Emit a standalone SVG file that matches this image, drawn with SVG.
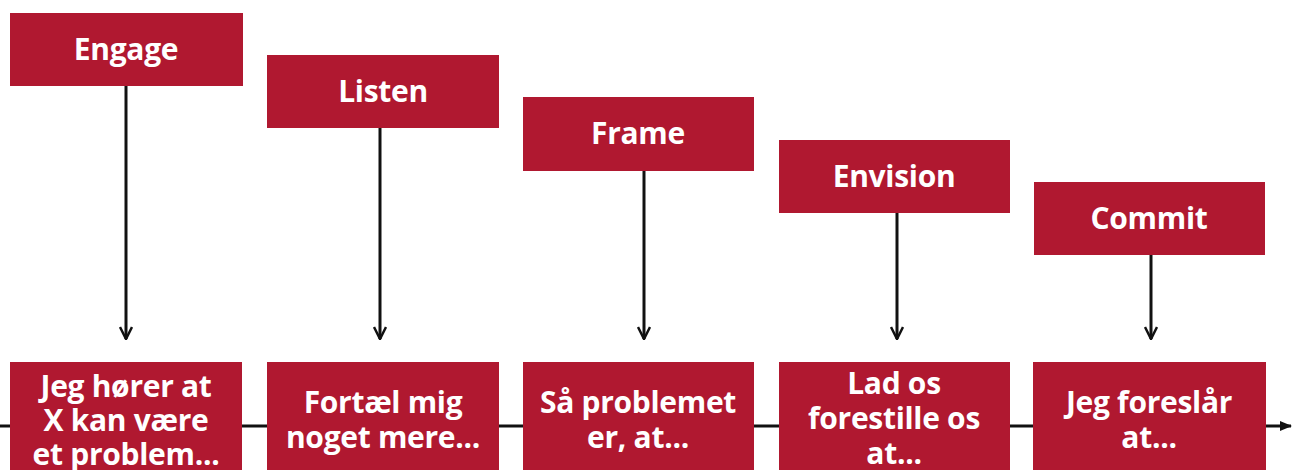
<svg xmlns="http://www.w3.org/2000/svg" width="1295" height="470" viewBox="0 0 1295 470">
<defs>
<marker id="ah" viewBox="0 0 14 14" refX="13" refY="7" markerWidth="14" markerHeight="14" markerUnits="userSpaceOnUse" orient="auto">
<path d="M1,1 L13,7 L1,13" fill="none" stroke="#111" stroke-width="2.5"/>
</marker>
<marker id="ah2" viewBox="0 0 12 12" refX="11" refY="6" markerWidth="12" markerHeight="12" markerUnits="userSpaceOnUse" orient="auto">
<path d="M0,1 L12,6 L0,11 Z" fill="#111"/>
</marker>
</defs>
<style>
.box{fill:#B01830}
.t{fill:#fff;font-family:"Open Sans","Liberation Sans",sans-serif;font-weight:bold;font-size:30px;text-anchor:middle;letter-spacing:-0.3px}
.c{stroke:#111;stroke-width:3;fill:none}
</style>
<rect width="1295" height="470" fill="#fff"/>
<g id="connectors">
<line class="c" x1="0" y1="426" x2="1291" y2="426" marker-end="url(#ah2)"/>
<line class="c" x1="126" y1="86" x2="126" y2="339" marker-end="url(#ah)"/>
<line class="c" x1="380" y1="128" x2="380" y2="339" marker-end="url(#ah)"/>
<line class="c" x1="644" y1="171" x2="644" y2="339" marker-end="url(#ah)"/>
<line class="c" x1="897" y1="213" x2="897" y2="339" marker-end="url(#ah)"/>
<line class="c" x1="1151" y1="255" x2="1151" y2="339" marker-end="url(#ah)"/>
</g>
<g id="engage"><rect class="box" x="10" y="13" width="233" height="73"/><text class="t" x="126" y="60">Engage</text></g>
<g id="listen"><rect class="box" x="267" y="55" width="232" height="73"/><text class="t" x="383" y="102">Listen</text></g>
<g id="frame"><rect class="box" x="523" y="97" width="231" height="74"/><text class="t" x="638" y="144">Frame</text></g>
<g id="envision"><rect class="box" x="779" y="140" width="231" height="73"/><text class="t" x="894" y="187">Envision</text></g>
<g id="commit"><rect class="box" x="1034" y="182" width="231" height="73"/><text class="t" x="1149" y="229">Commit</text></g>
<g id="engage-say"><rect class="box" x="10" y="362" width="232" height="110"/><text class="t" x="126" y="397">Jeg hører at</text><text class="t" x="126" y="431">X kan være</text><text class="t" x="126" y="465">et problem...</text></g>
<g id="listen-say"><rect class="box" x="267" y="362" width="232" height="110"/><text class="t" x="383" y="413">Fortæl mig</text><text class="t" x="383" y="448">noget mere...</text></g>
<g id="frame-say"><rect class="box" x="523" y="362" width="231" height="110"/><text class="t" x="638" y="413">Så problemet</text><text class="t" x="638" y="448">er, at...</text></g>
<g id="envision-say"><rect class="box" x="779" y="362" width="231" height="110"/><text class="t" x="894" y="394">Lad os</text><text class="t" x="894" y="429">forestille os</text><text class="t" x="894" y="464">at...</text></g>
<g id="commit-say"><rect class="box" x="1033" y="362" width="233" height="110"/><text class="t" x="1149" y="413">Jeg foreslår</text><text class="t" x="1149" y="448">at...</text></g>
</svg>
